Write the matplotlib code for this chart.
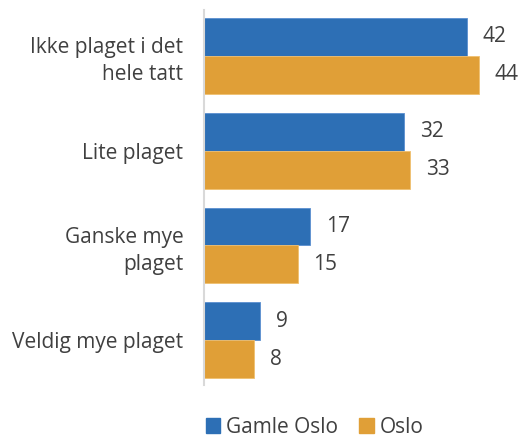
import numpy as np
import matplotlib.pyplot as plt
from matplotlib.patches import Patch

plt.rcParams['font.family'] = ['Open Sans', 'DejaVu Sans']

categories = ["Ikke plaget i det\nhele tatt", "Lite plaget", "Ganske mye\nplaget", "Veldig mye plaget"]
gamle_oslo = [42, 32, 17, 9]
oslo = [44, 33, 15, 8]
series_names = ["Gamle Oslo", "Oslo"]

blue = "#2d6fb5"
orange = "#e09f37"
txt = "#404040"
fs = 15

fig = plt.figure(figsize=(5.22, 4.38), dpi=100)
ax = fig.add_axes([0.391, 0.121, 0.563, 0.856])

y = np.arange(len(categories))
h = 0.4
ax.barh(y - h / 2, gamle_oslo, height=h, color=blue, edgecolor="#5b8fd0", linewidth=0.6)
ax.barh(y + h / 2, oslo, height=h, color=orange, edgecolor="#f0c070", linewidth=0.6)

# value labels just past the bar ends
for i in range(len(categories)):
    ax.text(gamle_oslo[i] + 2.5, y[i] - h / 2, str(gamle_oslo[i]), va="center", ha="left",
            fontsize=fs, color=txt)
    ax.text(oslo[i] + 2.5, y[i] + h / 2, str(oslo[i]), va="center", ha="left",
            fontsize=fs, color=txt)

ax.set_xlim(0, 47)
ax.set_ylim(3.47, -0.48)
ax.set_yticks(y)
ax.set_yticklabels(categories, fontsize=fs, color=txt, ha="right", multialignment="right",
                   linespacing=1.35)
ax.tick_params(axis="y", length=0, pad=15)
ax.set_xticks([])
for s in ["top", "right", "bottom"]:
    ax.spines[s].set_visible(False)
ax.spines["left"].set_color("#d9d9d9")
ax.spines["left"].set_linewidth(1.5)

handles = [Patch(color=blue), Patch(color=orange)]
fig.legend(handles, series_names, loc="center", bbox_to_anchor=(0.603, 0.024), ncol=2,
           frameon=False, fontsize=fs, labelcolor=txt, handlelength=0.7, handleheight=0.7,
           handletextpad=0.3, columnspacing=1.0)

fig.savefig("out.png", dpi=100)
